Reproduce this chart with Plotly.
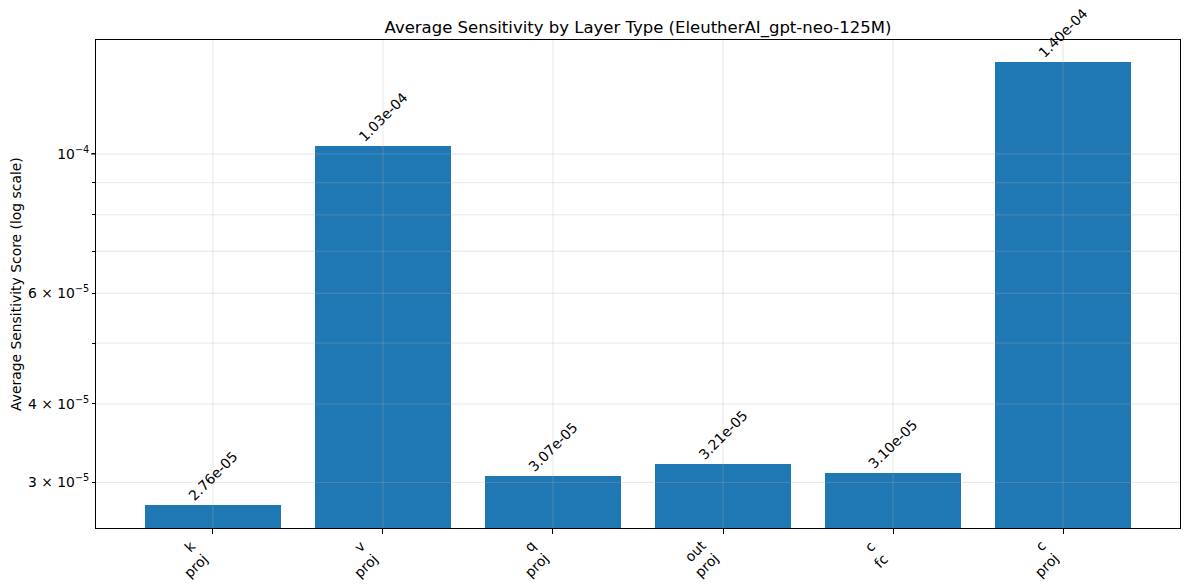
import math
import plotly.graph_objects as go

categories = ["k\nproj", "v\nproj", "q\nproj", "out\nproj", "c\nfc", "c\nproj"]
values = [2.76e-05, 1.03e-04, 3.07e-05, 3.21e-05, 3.10e-05, 1.40e-04]
value_labels = ["2.76e-05", "1.03e-04", "3.07e-05", "3.21e-05", "3.10e-05", "1.40e-04"]
ytick_vals = [3e-5, 4e-5, 6e-5, 1e-4]
ytick_text = ["3 × 10<sup>−5</sup>", "4 × 10<sup>−5</sup>", "6 × 10<sup>−5</sup>", "10<sup>−4</sup>"]
yminor_vals = [5e-5, 7e-5, 8e-5, 9e-5]

FONT = "DejaVu Sans"
FS = 13.9
BLUE = "#1f77b4"
GRID = "rgba(176,176,176,0.3)"

xs = list(range(len(categories)))

fig = go.Figure()
fig.add_trace(go.Bar(x=xs, y=values, width=0.8, marker=dict(color=BLUE, line=dict(width=0)),
                     showlegend=False, hoverinfo="skip"))

annotations = []
for x, v, t in zip(xs, values, value_labels):
    annotations.append(dict(x=x, y=math.log10(v), xref="x", yref="y", text=t, showarrow=False,
                            textangle=-45, xanchor="center", yanchor="bottom", borderpad=0,
                            font=dict(family=FONT, size=FS, color="black")))
for x, c in zip(xs, categories):
    annotations.append(dict(x=x, y=0, xref="x", yref="paper", text=c.replace("\n", "<br>"),
                            showarrow=False, textangle=-45, xanchor="right", yanchor="top",
                            align="right", yshift=-8, borderpad=0,
                            font=dict(family=FONT, size=FS, color="black")))
annotations.append(dict(x=-0.0738, y=0.5, xref="paper", yref="paper",
                        text="Average Sensitivity Score (log scale)", showarrow=False,
                        textangle=-90, xanchor="center", yanchor="middle",
                        font=dict(family=FONT, size=FS, color="black")))

shapes = []
for v in ytick_vals + yminor_vals:
    shapes.append(dict(type="line", xref="paper", yref="y", x0=0, x1=1, y0=v, y1=v,
                       line=dict(color=GRID, width=1), layer="above"))
for x in xs:
    shapes.append(dict(type="line", xref="x", yref="paper", x0=x, x1=x, y0=0, y1=1,
                       line=dict(color=GRID, width=1), layer="above"))
# longer major tick at the decade
shapes.append(dict(type="line", xref="paper", yref="y", xsizemode="pixel", xanchor=0,
                   x0=-5, x1=0, y0=ytick_vals[-1], y1=ytick_vals[-1],
                   line=dict(color="black", width=1)))

fig.update_layout(
    width=1190, height=588,
    margin=dict(l=96, r=10, t=40, b=60),
    paper_bgcolor="white", plot_bgcolor="white",
    font=dict(family=FONT, size=FS, color="black"),
    title=dict(text="Average Sensitivity by Layer Type (EleutherAI_gpt-neo-125M)",
               x=638 / 1190, xanchor="center", y=1 - 27 / 588, yanchor="middle",
               xref="container", yref="container",
               font=dict(family=FONT, size=16.5, color="black")),
    annotations=annotations,
    shapes=shapes,
    bargap=0,
)
fig.update_xaxes(range=[-0.688, 5.688], tickvals=xs, showticklabels=False,
                 ticks="outside", ticklen=5, tickcolor="black", showgrid=False,
                 showline=True, linecolor="black", linewidth=1, mirror=True, zeroline=False)
fig.update_yaxes(type="log", range=[-4.5955, -3.8185], tickvals=ytick_vals, ticktext=ytick_text,
                 ticks="outside", ticklen=3, tickcolor="black", showgrid=False,
                 minor=dict(tickvals=yminor_vals, ticks="outside", ticklen=3, tickcolor="black",
                            showgrid=False),
                 showline=True, linecolor="black", linewidth=1, mirror=True, zeroline=False,
                 tickfont=dict(family=FONT, size=FS, color="black"))

fig.write_html("out.html", config={"displayModeBar": False},
               post_script="document.body.style.margin='0';document.body.style.overflow='hidden';")
